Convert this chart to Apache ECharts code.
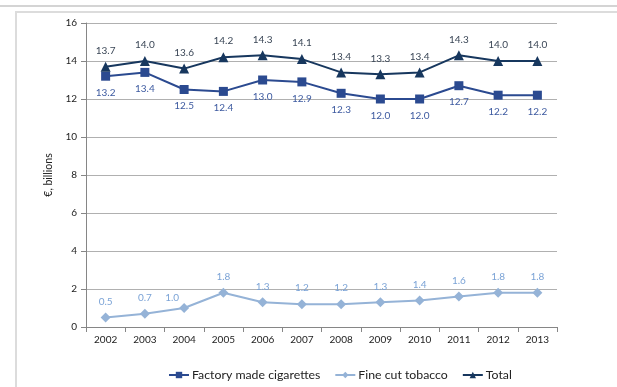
<!DOCTYPE html>
<html>
<head>
<meta charset="utf-8">
<style>
  html, body { margin: 0; padding: 0; background: #ffffff; }
  #chart { width: 617px; height: 387px; }
</style>
<script src="https://cdn.jsdelivr.net/npm/echarts@6/dist/echarts.min.js"></script>
</head>
<body>
<div id="chart"></div>
<script>
// Annual tobacco sales value, € billions
const years = ['2002', '2003', '2004', '2005', '2006', '2007', '2008', '2009', '2010', '2011', '2012', '2013'];
const factoryMade = [13.2, 13.4, 12.5, 12.4, 13.0, 12.9, 12.3, 12.0, 12.0, 12.7, 12.2, 12.2];
const fineCut = [0.5, 0.7, 1.0, 1.8, 1.3, 1.2, 1.2, 1.3, 1.4, 1.6, 1.8, 1.8];
const total = [13.7, 14.0, 13.6, 14.2, 14.3, 14.1, 13.4, 13.3, 13.4, 14.3, 14.0, 14.0];
const yTicks = [0, 2, 4, 6, 8, 10, 12, 14, 16];

const FONT = 'Lato, "Open Sans", sans-serif';
const chart = echarts.init(document.getElementById('chart'));

// fine cut label for 2004 sits up-left of its marker
const fineCutData = fineCut.map((v, i) => i === 2
  ? { value: v, label: { offset: [-12, 6] } }
  : v);

chart.setOption({
  animation: false,
  textStyle: { fontFamily: FONT },
  graphic: [
    { type: 'line', shape: { x1: 0, y1: 6, x2: 617, y2: 6 }, style: { stroke: '#d4d4d4', lineWidth: 2 } },
    { type: 'line', shape: { x1: 15, y1: 12, x2: 617, y2: 12 }, style: { stroke: '#dcdcdc', lineWidth: 2 } },
    { type: 'line', shape: { x1: 16, y1: 12, x2: 16, y2: 387 }, style: { stroke: '#dcdcdc', lineWidth: 2 } }
  ],
  grid: { left: 86, right: 60, top: 23, bottom: 60, containLabel: false },
  legend: {
    bottom: 1,
    left: 163,
    itemWidth: 20,
    itemHeight: 8,
    itemGap: 14,
    textStyle: { fontFamily: FONT, fontSize: 12.3, color: '#222222', padding: [0, 0, 0, -2] },
    data: ['Factory made cigarettes', 'Fine cut tobacco', 'Total']
  },
  xAxis: {
    type: 'category',
    data: years,
    boundaryGap: true,
    axisLine: { lineStyle: { color: '#868686', width: 1 } },
    axisTick: { show: true, length: 5, lineStyle: { color: '#868686' } },
    axisLabel: { color: '#222222', fontSize: 10, margin: 8, fontFamily: FONT }
  },
  yAxis: {
    type: 'value',
    min: yTicks[0],
    max: yTicks[yTicks.length - 1],
    interval: 2,
    name: '€, billions',
    nameLocation: 'middle',
    nameGap: 28,
    nameTextStyle: { color: '#222222', fontSize: 10.5, fontFamily: FONT },
    axisLine: { show: true, lineStyle: { color: '#868686', width: 1 } },
    axisTick: { show: true, length: 5, lineStyle: { color: '#868686' } },
    axisLabel: { color: '#222222', fontSize: 10, margin: 9, fontFamily: FONT },
    splitLine: { show: true, lineStyle: { color: '#b0b0b0', width: 1 } }
  },
  series: [
    {
      name: 'Factory made cigarettes',
      type: 'line',
      data: factoryMade,
      symbol: 'rect',
      symbolSize: 9,
      lineStyle: { color: '#2b4a90', width: 2 },
      itemStyle: { color: '#2b4a90' },
      label: {
        show: true, position: 'bottom', distance: 7,
        formatter: p => Number(p.value).toFixed(1),
        color: '#3d5aa0', fontSize: 10, fontFamily: FONT
      }
    },
    {
      name: 'Fine cut tobacco',
      type: 'line',
      data: fineCutData,
      symbol: 'diamond',
      symbolSize: 10,
      lineStyle: { color: '#95b3d7', width: 2 },
      itemStyle: { color: '#95b3d7' },
      label: {
        show: true, position: 'top', distance: 6,
        formatter: p => Number(p.value).toFixed(1),
        color: '#7ba3d6', fontSize: 10, fontFamily: FONT
      }
    },
    {
      name: 'Total',
      type: 'line',
      data: total,
      symbol: 'triangle',
      symbolSize: 10,
      lineStyle: { color: '#17375e', width: 2 },
      itemStyle: { color: '#17375e' },
      label: {
        show: true, position: 'top', distance: 6,
        formatter: p => Number(p.value).toFixed(1),
        color: '#3a4656', fontSize: 10, fontFamily: FONT
      }
    }
  ]
});
</script>
</body>
</html>
